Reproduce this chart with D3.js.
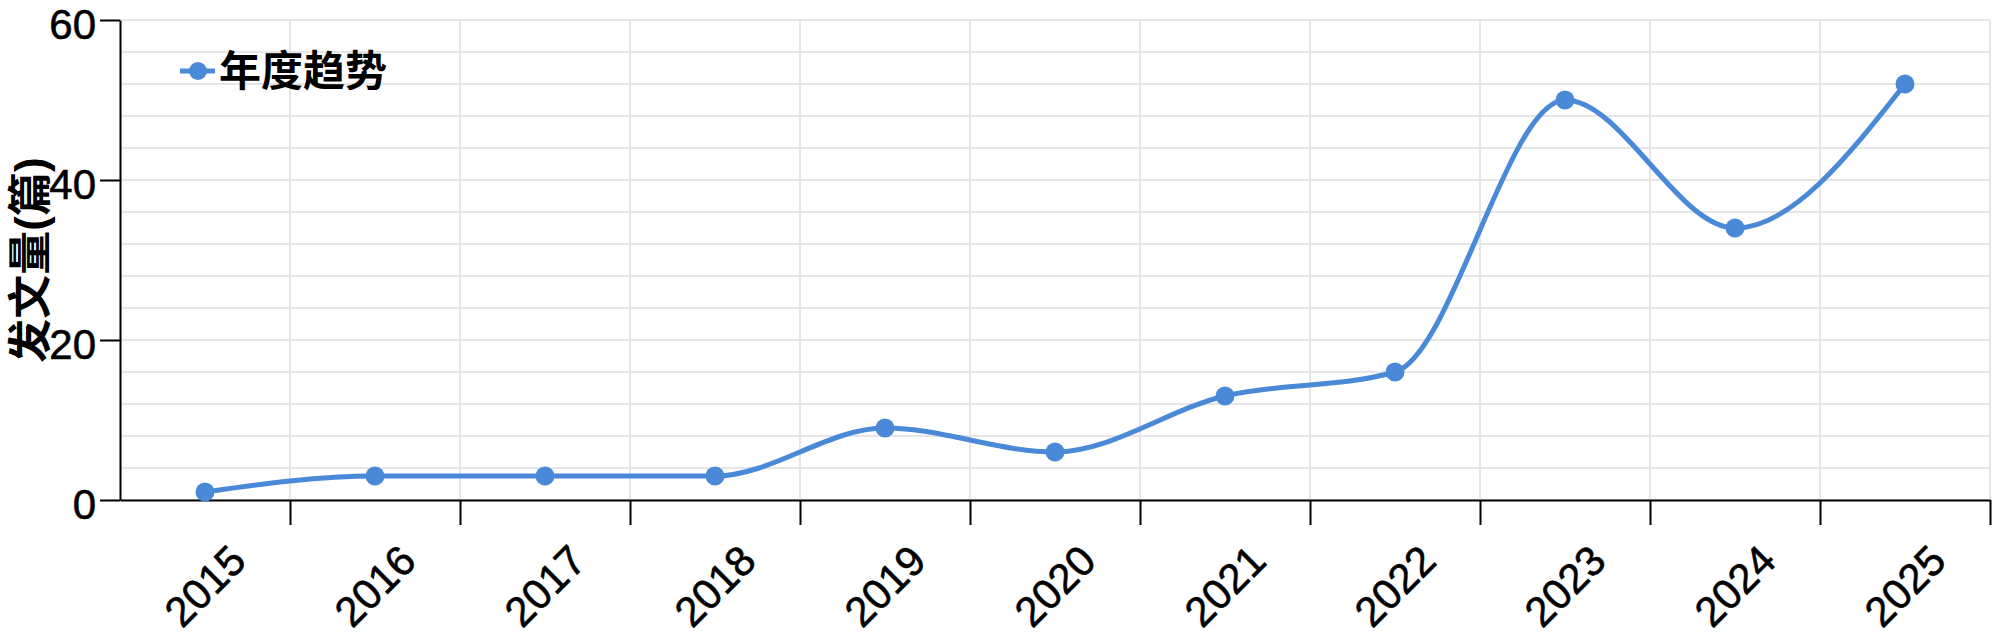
<!DOCTYPE html>
<html>
<head>
<meta charset="utf-8">
<script src="https://cdn.jsdelivr.net/npm/d3@7"></script>
<style>
  html, body { margin: 0; padding: 0; background: #ffffff; }
  svg { display: block; }
  text { font-family: "Liberation Sans", Arial, "Noto Sans CJK SC", sans-serif; }
</style>
</head>
<body>
<svg id="chart" width="2000" height="643"></svg>
<script>
// ---- data ----
const years = ["2015","2016","2017","2018","2019","2020","2021","2022","2023","2024","2025"];
const counts = [1, 3, 3, 3, 9, 6, 13, 16, 50, 34, 52];
const yTickValues = [0, 20, 40, 60];
const seriesName = "年度趋势";
const yTitle = "发文量(篇)";

// ---- layout ----
const plotLeft = 120, plotRight = 1990, plotTop = 20, plotBottom = 500;
const color = "#4a89d8";
const gridColor = "#e6e6e6";

const svg = d3.select("#chart");

const x = d3.scaleBand().domain(years).range([plotLeft, plotRight]).padding(0);
const xi = d3.scaleLinear().domain([0, years.length]).range([plotLeft, plotRight]);
const y = d3.scaleLinear().domain([0, 60]).range([plotBottom, plotTop]);

// grid
const grid = svg.append("g").attr("class", "grid");
grid.selectAll("line.h").data(d3.range(0, 61, 4)).enter().append("line")
  .attr("class", "h")
  .attr("x1", plotLeft).attr("x2", plotRight)
  .attr("y1", d => y(d)).attr("y2", d => y(d))
  .attr("stroke", gridColor).attr("stroke-width", 2);
grid.selectAll("line.v").data(d3.range(1, years.length + 1)).enter().append("line")
  .attr("class", "v")
  .attr("x1", d => xi(d)).attr("x2", d => xi(d))
  .attr("y1", plotTop).attr("y2", plotBottom)
  .attr("stroke", gridColor).attr("stroke-width", 2);

// y axis
const yAxis = svg.append("g").attr("transform", `translate(${plotLeft},0)`)
  .call(d3.axisLeft(y).tickValues(yTickValues).tickSize(20).tickSizeOuter(0).tickPadding(4));
yAxis.select(".domain").attr("stroke", "#000").attr("stroke-width", 2);
yAxis.selectAll(".tick line").attr("stroke", "#000").attr("stroke-width", 2);
yAxis.selectAll(".tick text").attr("font-size", 42).attr("fill", "#000")
  .attr("stroke", "#000").attr("stroke-width", 0.6)
  .attr("dy", "0.45em")
  .attr("font-family", "'Liberation Sans', Arial, sans-serif");

// x axis ticks at band boundaries
const xAxis = svg.append("g").attr("transform", `translate(0,${plotBottom})`)
  .call(d3.axisBottom(xi).tickValues(d3.range(1, years.length + 1)).tickSize(25).tickSizeOuter(0).tickFormat(""));
xAxis.select(".domain").attr("stroke", "#000").attr("stroke-width", 2);
xAxis.selectAll(".tick line").attr("stroke", "#000").attr("stroke-width", 2);

// x labels
svg.append("g").selectAll("text").data(years).enter().append("text")
  .attr("transform", d => `translate(${x(d) + x.bandwidth() / 2},586) rotate(-45)`)
  .attr("text-anchor", "middle")
  .attr("dominant-baseline", "central")
  .attr("font-size", 42)
  .attr("fill", "#000")
  .attr("stroke", "#000").attr("stroke-width", 0.6)
  .text(d => d);

// y title
svg.append("text")
  .attr("transform", `translate(30,${(plotTop + plotBottom) / 2}) rotate(-90)`)
  .attr("text-anchor", "middle")
  .attr("dominant-baseline", "central")
  .attr("font-size", 44)
  .attr("font-weight", "bold")
  .attr("fill", "#000")
  .attr("font-family", "'Noto Sans CJK SC', 'Liberation Sans', sans-serif")
  .text(yTitle);

// line
const data = years.map((yr, i) => ({ yr, v: counts[i] }));
const line = d3.line()
  .x(d => x(d.yr) + x.bandwidth() / 2)
  .y(d => y(d.v))
  .curve(d3.curveMonotoneX);
svg.append("path").datum(data)
  .attr("d", line)
  .attr("fill", "none")
  .attr("stroke", color)
  .attr("stroke-width", 5);
svg.append("g").selectAll("circle").data(data).enter().append("circle")
  .attr("cx", d => x(d.yr) + x.bandwidth() / 2)
  .attr("cy", d => y(d.v))
  .attr("r", 9.5)
  .attr("fill", color);

// legend
const lg = svg.append("g").attr("transform", "translate(180,71)");
lg.append("line").attr("x1", 0).attr("x2", 35).attr("y1", 0).attr("y2", 0)
  .attr("stroke", color).attr("stroke-width", 5);
lg.append("circle").attr("cx", 18).attr("cy", 0).attr("r", 9).attr("fill", color);
lg.append("text").attr("x", 39).attr("y", 0)
  .attr("dominant-baseline", "central")
  .attr("font-size", 42)
  .attr("font-weight", "bold")
  .attr("fill", "#000")
  .attr("font-family", "'Noto Sans CJK SC', 'Liberation Sans', sans-serif")
  .text(seriesName);
</script>
</body>
</html>
